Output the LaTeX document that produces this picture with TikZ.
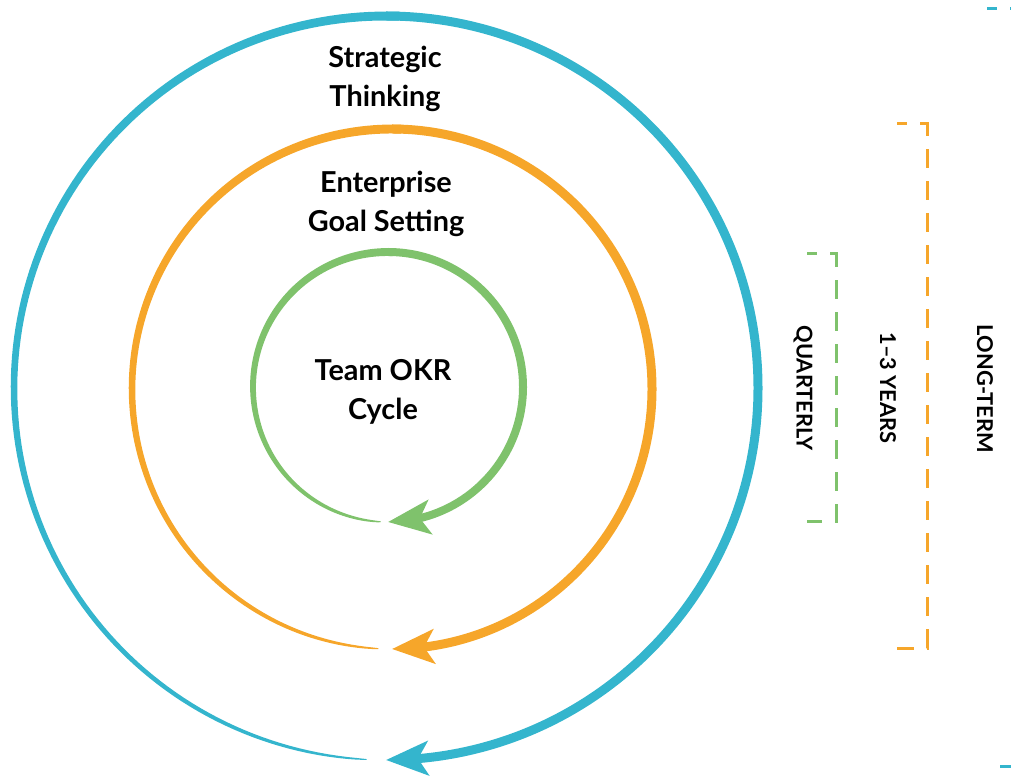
\documentclass[tikz,border=0pt]{standalone}
\usepackage{fontspec}
\setmainfont{Lato}
\usetikzlibrary{arrows.meta, bending}

\definecolor{okrblue}{RGB}{52,181,205}
\definecolor{okrorange}{RGB}{246,166,42}
\definecolor{okrgreen}{RGB}{127,194,108}

\begin{document}
\begin{tikzpicture}[
    x=0.025cm, y=0.025cm,
    head/.style={-{Stealth[length=1.05cm, width=0.85cm, inset=0.25cm, flex]}},
    title/.style={align=center, font=\fontsize{20.5}{27.5}\selectfont\bfseries},
    span/.style={rotate=-90, font=\fontsize{15.5}{17}\selectfont\bfseries},
    bracket/.style={line width=0.075cm, dash pattern=on 0.47cm off 0.33cm, dash phase=0.22cm},
]
    \useasboundingbox (0,0) rectangle (1011,776);

    % rings: thin tail at the bottom, full width towards the arrow
    \foreach \cx/\cy/\r/\w/\col in {386/388/372/9/okrblue, 392/387/260/9/okrorange, 388/389/135/8/okrgreen} {
        \fill[\col] plot[domain=-93:-272, samples=120, variable=\a]
            ({\cx+(\r+0.5*\w*(0.1+0.9*sqrt((-93-(\a))/179)))*cos(\a)}, {\cy+(\r+0.5*\w*(0.1+0.9*sqrt((-93-(\a))/179)))*sin(\a)})
            -- plot[domain=-272:-93, samples=120, variable=\a]
            ({\cx+(\r-0.5*\w*(0.1+0.9*sqrt((-93-(\a))/179)))*cos(\a)}, {\cy+(\r-0.5*\w*(0.1+0.9*sqrt((-93-(\a))/179)))*sin(\a)})
            -- cycle;
        \draw[\col, line width=\w*0.025cm, head] (\cx,\cy) ++(-270:\r) arc[start angle=-270, end angle=-450, radius=\r];
    }

    \node[title] (strategic)  at (385,697) {Strategic\\Thinking};
    \node[title] (enterprise) at (386,572) {Enterprise\\Goal Setting};
    \node[title] (team)       at (383,384) {Team OKR\\Cycle};

    \node[span] (quarterly) at (803,388) {QUARTERLY};
    \node[span] (years)     at (888,388) {1–3 YEARS};
    \node[span] (longterm)  at (985,387) {LONG-TERM};

    % time spans
    \draw[bracket, okrgreen]  (807,522) -- (836,522) -- (836,254) -- (807,254);
    \draw[bracket, okrorange] (897,652) -- (927,652) -- (927,128) -- (897,128);
    \draw[bracket, okrblue]   (987,767) -- (1020,767) -- (1020,10) -- (987,10);
\end{tikzpicture}
\end{document}
